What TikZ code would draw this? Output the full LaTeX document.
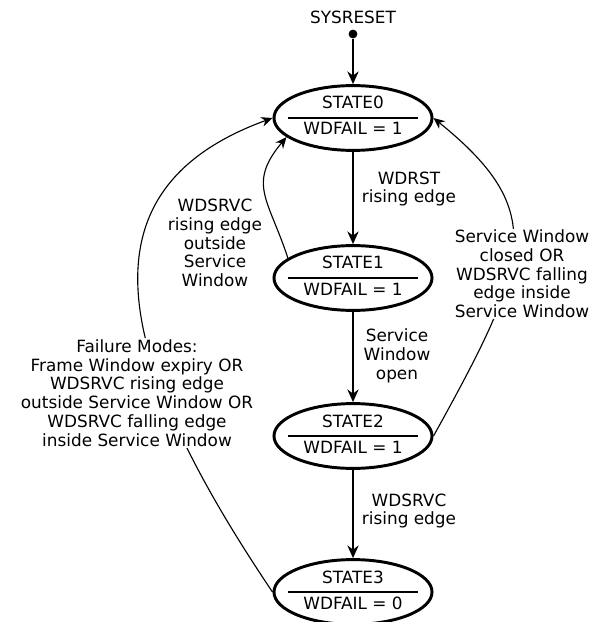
\documentclass[tikz,border=0pt]{standalone}
\usepackage{fontspec}
\setmainfont{DejaVu Sans}
\usepackage{tikz}
\usetikzlibrary{positioning, calc}
\usetikzlibrary{arrows.meta, shapes.geometric}
\tikzset{
    stateell/.style = {draw, ellipse, line width=2.1pt, minimum width=3.95cm, minimum height=1.62cm, inner sep=0pt},
    edgelbl/.style = {align=center, inner sep=1pt, font=\fontsize{12pt}{13.3pt}\selectfont},
    trans/.style = {line width=1.1pt, -{Stealth[length=9pt,width=8pt]}},
    loopback/.style = {line width=0.8pt, -{Stealth[length=8pt,width=7pt]}},
}
\newcommand{\fsmstate}[4] {
    \node[stateell] (#1) at (353,#2) {};
    \draw[line width=1.2pt] (288,#2) -- (418,#2);
    \node[edgelbl, anchor=base] (#1name) at (353,#2-9) {#3};
    \node[edgelbl, anchor=base] (#1out) at (353,#2+17) {WDFAIL = #4};
}

\begin{document}
\begin{tikzpicture}[x=0.025cm, y=-0.025cm]
                \useasboundingbox (0,0) rectangle (601,622);
                \fsmstate{s0}{118}{STATE0}{1}
                \fsmstate{s1}{278}{STATE1}{1}
                \fsmstate{s2}{436}{STATE2}{1}
                \fsmstate{s3}{592}{STATE3}{0}
                \node[edgelbl] (rstlbl) at (353,17) {SYSRESET};
                \node[circle, fill, inner sep=0pt, minimum size=0.22cm] (rst) at (353,34) {};
                \draw[trans] (rst) -- (s0);
                \draw[trans] (s0) -- (s1);
                \draw[trans] (s1) -- (s2);
                \draw[trans] (s2) -- (s3);
                \draw[loopback] (s1.163) to[out=108, in=230, looseness=1.3] (s0.196);
                \draw[loopback] (s3.west) to[out=124, in=200, out looseness=1.6, in looseness=1.1] (s0.west);
                \draw[loopback] (s2.east) to[out=61, in=321, out looseness=1.6, in looseness=1.2] (s0.east);
                \node[edgelbl] (lblwdrst) at (409,189) {WDRST\\rising edge};
                \node[edgelbl] (lblopen) at (397,356) {Service\\Window\\open};
                \node[edgelbl] (lblrise) at (409,511) {WDSRVC\\rising edge};
                \node[edgelbl] (lbloutside) at (215,243) {WDSRVC\\rising edge\\outside\\Service\\Window};
                \node[edgelbl, fill=white] (lblfail) at (137,393) {Failure Modes:\\Frame Window expiry OR\\WDSRVC rising edge\\outside Service Window OR\\WDSRVC falling edge\\inside Service Window};
                \node[edgelbl, fill=white] (lblclosed) at (522,274) {Service Window\\closed OR\\WDSRVC falling\\edge inside\\Service Window};
            \end{tikzpicture}
\end{document}
